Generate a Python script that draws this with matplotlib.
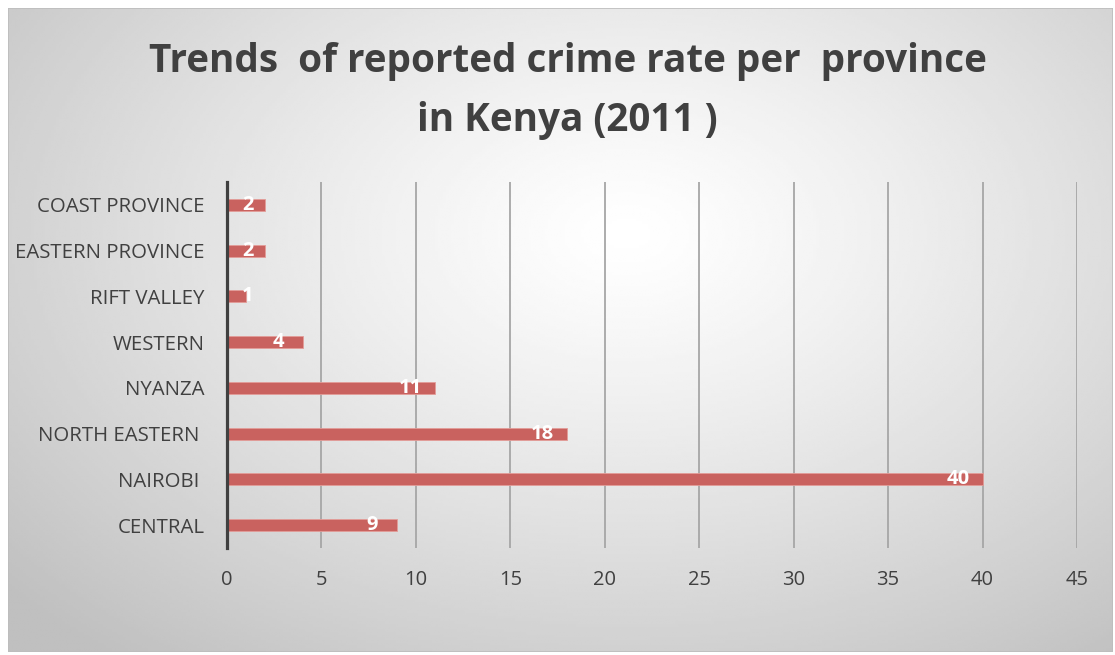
import numpy as np
import matplotlib.pyplot as plt
from matplotlib.patches import Rectangle

# data (bottom to top, as drawn)
provinces = ['CENTRAL', 'NAIROBI ', 'NORTH EASTERN ', 'NYANZA', 'WESTERN',
             'RIFT VALLEY', 'EASTERN PROVINCE', 'COAST PROVINCE']
crime_rate = [9, 40, 18, 11, 4, 1, 2, 2]
x_ticks = [0, 5, 10, 15, 20, 25, 30, 35, 40, 45]

title = 'Trends  of reported crime rate per  province\nin Kenya (2011 )'

bar_color = '#C9625F'
text_color = '#404040'

plt.rcParams['font.family'] = ['Open Sans', 'DejaVu Sans']

W, H = 1115, 655
fig = plt.figure(figsize=(W / 100, H / 100), dpi=100)
fig.patch.set_facecolor('white')

# radial gradient background inside chart box
bx0, by0, bx1, by1 = 8, 8, 1113, 652
bg = fig.add_axes([bx0 / W, 1 - by1 / H, (bx1 - bx0) / W, (by1 - by0) / H])
gx, gy = np.meshgrid(np.linspace(0, 1, 400), np.linspace(0, 1, 240))
cx, cy = 0.56, 0.35
r = np.sqrt(((gx - cx) / 0.75) ** 2 + ((gy - cy) / 0.85) ** 2)
r = np.clip(r, 0, 1)
shade = 1.0 - 0.25 * r ** 1.2
bg.imshow(shade, cmap='gray', vmin=0, vmax=1, aspect='auto',
          extent=[0, 1, 1, 0], interpolation='bilinear')
bg.set_xlim(0, 1)
bg.set_ylim(1, 0)
bg.axis('off')
bg.add_patch(Rectangle((0, 0), 1, 1, transform=bg.transAxes, fill=False,
                       edgecolor='#bdbdbd', linewidth=1.2))

# plot area
x0, x1 = 227, 1077
y0, y1 = 182, 548
ax = fig.add_axes([x0 / W, 1 - y1 / H, (x1 - x0) / W, (y1 - y0) / H])
ax.patch.set_alpha(0)

ypos = np.arange(len(provinces))
ax.barh(ypos, crime_rate, height=0.26, color=bar_color,
        edgecolor='#E39C98', linewidth=0.6, zorder=3)

ax.set_xlim(0, 45)
ax.set_ylim(-0.5, len(provinces) - 0.5)
ax.set_xticks(x_ticks)
ax.set_yticks(ypos)
ax.set_yticklabels(provinces)
ax.grid(axis='x', color='#a6a6a6', linewidth=1.3, zorder=0)
ax.set_axisbelow(True)

for s in ['top', 'right', 'bottom']:
    ax.spines[s].set_visible(False)
ax.spines['left'].set_color('#404040')
ax.spines['left'].set_linewidth(2.3)
ax.spines['left'].set_zorder(4)

ax.tick_params(axis='both', length=0, colors=text_color)
ax.tick_params(axis='y', labelsize=14.7, pad=16)
ax.tick_params(axis='x', labelsize=14.5, pad=16)

# data labels inside bar ends
for y, v in zip(ypos, crime_rate):
    lx = max(v - 1.3, 1.1)
    ax.text(lx, y, str(v), ha='center', va='center', color='white',
            fontsize=14.5, fontweight='bold', zorder=5)

fig.text(0.509, 1 - 91 / H, title, ha='center', va='center',
         fontsize=27.8, fontweight='bold', color=text_color, linespacing=1.68)

fig.savefig('out.png', dpi=100)
